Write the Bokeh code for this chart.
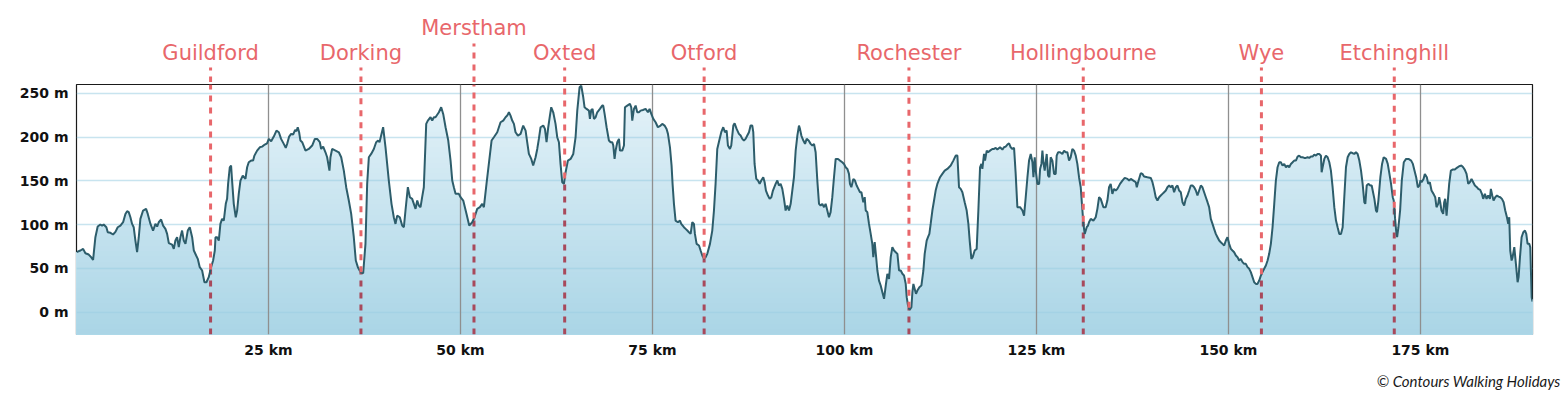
import numpy as np
from bokeh.plotting import figure
from bokeh.layouts import column
from bokeh.models import (Range1d, FixedTicker, PrintfTickFormatter, ColumnDataSource, Title)
from bokeh.embed import file_html
from bokeh.resources import INLINE
from bokeh.core.properties import value

# ---------------- data ----------------
distance_km = [
    0.0, 0.51, 0.86, 1.16, 1.59, 1.90, 2.16, 2.46, 2.76, 3.11, 3.33, 3.54, 3.89, 4.07, 4.42, 4.76,
    5.07, 5.37, 5.72, 6.07, 6.37, 6.59, 6.80, 7.02, 7.24, 7.45, 7.67, 7.89, 8.11, 8.32, 8.67, 9.06,
    9.28, 9.63, 9.97, 10.28, 10.50, 10.71, 11.02, 11.28, 11.58, 11.80, 12.02, 12.45, 12.67, 12.88,
    13.10, 13.32, 13.53, 13.75, 13.97, 14.19, 14.49, 14.75, 15.06, 15.28, 15.58, 15.79, 16.05, 16.36,
    16.66, 16.92, 17.22, 17.53, 17.79, 18.01, 18.10, 18.31, 18.53, 18.74, 18.96, 19.18, 19.44, 19.61,
    19.74, 19.96, 20.13, 20.26, 20.48, 20.74, 20.92, 21.13, 21.35, 21.65, 22.00, 22.22, 22.43, 22.74,
    23.00, 23.17, 23.52, 23.87, 24.17, 24.52, 24.82, 25.04, 25.35, 25.69, 26.04, 26.35, 26.64, 26.99,
    27.25, 27.43, 27.69, 27.95, 28.21, 28.47, 28.64, 28.81, 28.99, 29.16,
    29.39, 29.82, 30.25, 30.69, 31.04, 31.34, 31.69, 31.86, 32.12, 32.42, 32.64, 32.94, 33.07, 33.29,
    33.73, 34.16, 34.47, 34.81, 35.12, 35.46, 35.77, 36.11, 36.37, 36.64, 36.98, 37.33, 37.63, 37.85,
    38.07, 38.37, 38.72, 39.02, 39.28, 39.46, 39.67, 39.93, 40.24, 40.67, 41.02, 41.32, 41.54, 41.76,
    42.10, 42.41, 42.63, 42.84, 43.15, 43.41, 43.71, 44.15, 44.37, 44.58, 44.80, 45.01, 45.23, 45.54,
    45.75, 46.10, 46.32, 46.54, 46.75, 47.19, 47.49, 47.75, 48.06, 48.41, 48.71, 48.93, 49.14, 49.36,
    49.79, 50.01, 50.36, 50.79, 51.14, 51.53, 51.83, 52.18, 52.53, 52.83, 53.05, 53.39, 54.05, 54.35,
    54.79, 55.22, 55.57, 55.87, 56.09, 56.31, 56.52, 56.74, 56.96, 57.17, 57.48, 57.83, 58.17, 58.48,
    58.69, 58.91, 59.22, 59.47, 59.78, 60.00, 60.21, 60.43, 60.78, 61.00, 61.21, 61.43, 61.65, 61.82,
    62.08, 62.38, 62.60, 62.82, 63.03, 63.25, 63.47, 63.69, 63.99, 64.34, 64.69, 64.99, 65.21, 65.51,
    65.73, 65.99, 66.16, 66.42, 66.73, 66.86, 67.03, 67.20, 67.38, 67.60, 67.81, 68.16, 68.46, 68.59,
    68.77, 69.03, 69.33, 69.55, 69.77, 69.90, 70.07, 70.20, 70.42, 70.64, 70.77, 71.07, 71.29, 71.42,
    71.72, 72.07, 72.24, 72.37, 72.59, 72.81, 73.02, 73.24, 73.46, 73.76, 74.11, 74.41, 74.63, 74.85,
    75.11, 75.41, 75.71, 76.06, 76.28, 76.58, 76.84, 77.02, 77.28, 77.49, 77.62, 77.80, 78.01, 78.32,
    78.58, 78.75, 79.10, 79.32, 79.54, 79.75, 79.97, 80.19, 80.40, 80.53, 80.75, 81.06, 81.27, 81.49,
    81.71, 81.92, 82.14, 82.49, 82.79, 83.01, 83.22, 83.44, 83.70, 83.96, 84.22, 84.44, 84.66, 84.83,
    85.09, 85.26, 85.53, 85.70, 85.96, 86.26, 86.48, 86.70, 86.91, 87.13, 87.35, 87.57, 87.78, 88.00,
    88.13, 88.30, 88.52, 88.74, 88.96, 89.17, 89.43, 89.61, 89.78, 90.04, 90.26, 90.48, 90.69, 91.04,
    91.26, 91.47, 91.69, 91.91, 92.13, 92.34, 92.56, 92.78, 93.00, 93.21, 93.43, 93.65, 93.87, 94.08,
    94.21, 94.39, 94.65, 94.87, 95.08, 95.34, 95.60, 95.82, 96.04, 96.25, 96.47, 96.69, 96.90, 97.12,
    97.34, 97.55, 97.77, 97.99, 98.20, 98.42, 98.64, 98.86, 99.16, 99.42, 99.72, 99.94, 100.16, 100.38,
    100.59, 100.72, 100.90, 101.16, 101.37, 101.59, 101.81, 102.03,
    102.21, 102.33, 102.46, 102.64, 102.77, 102.98, 103.20, 103.42, 103.63, 103.76, 103.94, 104.11,
    104.29, 104.50, 104.72, 104.94, 105.16, 105.38, 105.59, 105.81, 106.03, 106.24, 106.46, 106.68,
    106.90, 107.11, 107.33, 107.55, 107.76, 107.98, 108.11, 108.28, 108.50, 108.72, 108.85, 108.98,
    109.15, 109.32, 109.50, 109.76, 110.02, 110.28, 110.45, 110.71, 110.88, 111.06, 111.23, 111.45,
    111.67, 111.88, 112.10, 112.45, 112.75, 113.06, 113.40, 113.84, 114.18, 114.49, 114.71, 114.92,
    115.14, 115.36, 115.66, 115.92, 116.14, 116.31, 116.53, 116.70, 116.96, 117.22, 117.44, 117.66,
    117.83, 117.96, 118.18, 118.31, 118.53, 118.70, 118.96, 119.26, 119.48, 119.70, 119.91, 120.26,
    120.57, 120.78, 121.00, 121.22, 121.44, 121.65, 121.87, 122.09, 122.30, 122.52, 122.87, 123.18,
    123.39, 123.61, 123.83, 124.04, 124.26, 124.48, 124.61, 124.78, 124.91, 125.13, 125.35, 125.48,
    125.65, 125.78, 125.91, 126.08, 126.34, 126.52, 126.69, 126.86, 127.08, 127.30, 127.51, 127.64,
    127.82, 128.08, 128.38, 128.60, 128.81, 129.03, 129.25, 129.46, 129.68, 129.90, 130.12, 130.33,
    130.55, 130.77, 130.99, 131.12, 131.29, 131.55, 131.72, 131.85, 132.07, 132.42, 132.72, 132.94,
    133.16, 133.37, 133.72, 134.02, 134.24, 134.46, 134.67, 134.89, 135.11, 135.33, 135.54, 135.89,
    136.20, 136.50, 136.85, 137.07, 137.29, 137.63, 137.94, 138.07, 138.24, 138.50,
    138.59, 138.80, 139.02, 139.45, 139.89, 140.11, 140.32, 140.54, 140.76, 140.98, 141.19, 141.41,
    141.63, 141.85, 142.06, 142.28, 142.50, 142.71, 142.93, 143.15, 143.37, 143.58, 143.80, 144.02,
    144.24, 144.45, 144.67, 144.89, 145.10, 145.32, 145.54, 145.76, 145.97, 146.19, 146.41, 146.62,
    146.84, 147.06, 147.28, 147.49, 147.71, 147.93, 148.14, 148.36, 148.58, 148.80, 149.01, 149.23,
    149.45, 149.67, 149.88, 150.10, 150.32, 150.53, 150.75, 150.97, 151.19, 151.40, 151.62, 151.84,
    152.05, 152.27, 152.49, 152.71, 152.92, 153.14, 153.36, 153.58, 153.79, 154.01, 154.23, 154.44,
    154.66, 154.88, 155.10, 155.31, 155.53, 155.75, 155.97, 156.18, 156.40, 156.62, 156.83, 157.05,
    157.27, 157.49, 157.70, 157.92, 158.14, 158.36, 158.57, 158.79, 159.01, 159.22, 159.44, 159.66,
    159.88, 160.09, 160.31, 160.53, 160.75, 160.96, 161.18, 161.40, 161.61, 161.83, 162.05, 162.14,
    162.27, 162.49, 162.70, 162.92, 163.14, 163.35, 163.57, 163.79, 164.01, 164.22, 164.44, 164.66,
    164.88, 165.09, 165.31, 165.53, 165.74, 165.96, 166.18, 166.40, 166.61, 166.83, 167.05, 167.27,
    167.48, 167.70, 167.83, 168.01, 168.22, 168.48, 168.66, 168.79, 169.01, 169.22, 169.35, 169.53,
    169.79, 170.01, 170.22, 170.53, 170.75, 170.97, 171.18, 171.40, 171.53, 171.71, 171.84, 171.97,
    172.14, 172.36, 172.58, 172.84, 173.14, 173.45, 173.80, 174.02, 174.23, 174.45, 174.67, 174.88,
    175.01,
    175.15, 175.41, 175.58, 175.84, 176.02, 176.23, 176.45, 176.71, 176.93, 177.10, 177.32, 177.45,
    177.58, 177.75, 177.97, 178.10, 178.23, 178.41, 178.54, 178.75, 178.97, 179.19, 179.49, 179.75,
    180.05, 180.36, 180.57, 180.79, 181.01, 181.23, 181.44, 181.66, 181.88, 182.10, 182.36, 182.53,
    182.79, 183.01, 183.18, 183.40, 183.62, 183.83, 184.05, 184.18, 184.36, 184.53, 184.75, 184.97,
    185.18, 185.40, 185.62, 185.84, 186.05, 186.27, 186.44, 186.57, 186.70, 186.88, 187.01, 187.23,
    187.44, 187.66, 187.79, 187.97, 188.18, 188.40, 188.62, 188.79, 188.96, 189.18, 189.31, 189.49,
    189.60,
]

elevation_m = [
    68.5, 70.4, 72.3, 67.3, 65.8, 62.8, 59.7, 85.6, 97.8, 100.1, 98.9, 100.1, 97.0, 91.3, 90.6, 88.7,
    91.7, 97.0, 98.9, 102.7, 112.2, 115.3, 114.2, 108.4, 100.8, 97.0, 81.8, 68.5, 85.6, 106.5, 116.1, 118.0,
    112.2, 100.8, 93.2, 100.8, 97.8, 102.7, 105.8, 98.9, 95.1, 89.4, 78.8, 77.2, 72.3, 81.8,
    85.6, 74.2, 85.6, 93.2, 81.8, 78.0, 93.2, 97.0, 85.6, 70.4, 64.7, 60.9, 51.4, 47.6,
    34.2, 34.2, 40.0, 51.4, 59.0, 70.4, 85.6, 85.6, 81.8, 100.8, 106.5, 104.6, 123.7, 129.4,
    146.5, 165.5, 167.4, 150.3, 123.7, 108.4, 116.1, 135.1, 150.3, 156.0, 152.2, 165.5, 171.2, 173.1,
    173.1, 178.8, 184.5, 188.3, 189.1, 191.4, 192.9, 197.9, 195.2, 200.5, 207.4, 205.5, 197.9, 192.2,
    187.6, 192.2, 200.5, 203.6, 202.8, 208.1, 206.6, 211.2, 205.5, 196.0,
    194.1, 184.5, 186.4, 190.3, 197.9, 197.9, 194.1, 186.4, 189.1, 182.6, 176.9, 161.7, 176.9, 186.4,
    184.5, 182.6, 176.9, 161.7, 142.7, 127.5, 112.2, 85.6, 59.0, 51.4, 45.7, 44.5, 78.0, 146.5,
    176.9, 180.7, 186.4, 194.1, 196.0, 194.1, 201.7, 211.2, 188.3, 150.3, 123.7, 108.4, 100.8, 110.3,
    108.4, 98.9, 97.0, 116.1, 142.7, 131.3, 129.4, 118.0, 127.5, 121.8, 119.9, 131.3, 142.7, 215.0,
    218.8, 222.6, 218.8, 222.6, 222.6, 228.3, 234.0, 226.4, 211.2, 196.0, 173.1, 150.3, 142.7, 135.1,
    135.1, 131.3, 127.5, 112.2, 98.9, 102.7, 108.4, 118.0, 119.9, 123.7, 119.9, 146.5, 196.0, 199.8,
    205.5, 216.9, 218.8, 222.6, 224.5, 228.3, 224.5, 218.8, 215.0, 205.5, 201.7, 203.6, 213.1, 207.4,
    194.1, 180.7, 175.0, 167.4, 176.9, 186.4, 197.9, 211.2, 213.1, 209.3, 194.1, 211.2, 224.5, 234.0,
    228.3, 215.0, 199.8, 194.1, 169.3, 148.4, 146.5, 159.8, 173.1, 175.0, 180.7, 199.8, 230.2, 256.8,
    258.7, 245.4, 234.0, 232.1, 230.2, 220.7, 230.9, 232.1, 220.7, 222.6, 228.3, 232.1, 235.9, 235.9,
    226.4, 211.2, 196.0, 194.1, 194.1, 190.3, 175.0, 184.5, 194.1, 197.9, 184.5, 184.5, 190.3, 234.0,
    235.9, 237.8, 234.0, 218.8, 232.1, 235.9, 228.3, 228.3, 230.2, 230.9, 232.1, 228.3, 232.1, 226.4,
    220.7, 216.9, 211.2, 213.1, 215.0, 213.1, 209.3, 203.6, 188.3, 167.4, 146.5, 123.7, 104.6, 102.7,
    104.6, 100.8, 97.0, 95.1, 93.2, 91.3, 89.4, 102.7, 100.8, 89.4, 78.0, 76.1, 70.4, 64.7,
    60.9, 62.8, 66.6, 78.0, 93.2, 116.1, 146.5, 186.4, 196.0, 205.5, 211.2, 205.5, 207.4, 190.3,
    186.4, 190.3, 213.1, 215.7, 209.3, 203.6, 201.7, 197.9, 196.0, 197.9, 201.7, 205.5, 213.1, 213.1,
    205.5, 169.3, 152.2, 150.3, 146.5, 150.3, 154.1, 148.4, 138.9, 133.2, 129.4, 131.3, 138.9, 146.5,
    150.3, 144.6, 146.5, 140.8, 129.4, 116.1, 121.8, 116.1, 123.7, 138.9, 154.1, 184.5, 201.7, 213.1,
    209.3, 201.7, 196.0, 192.2, 197.9, 196.0, 192.2, 190.3, 192.2, 182.6, 150.3, 123.7, 121.8, 123.7,
    119.9, 123.7, 116.1, 108.4, 114.2, 131.3, 154.1, 175.0, 175.0, 173.1, 171.2, 169.3, 165.5, 163.6,
    157.9, 146.5, 142.7, 152.2, 150.3, 144.6, 140.8, 137.0,
    137.0, 131.3, 125.6, 131.3, 116.1, 114.2, 100.8, 89.4, 78.0, 62.8, 79.9, 64.7,
    47.6, 36.1, 30.4, 22.8, 15.2, 30.4, 43.8, 38.1, 62.8, 74.2, 70.4, 68.5,
    66.6, 47.6, 47.6, 43.8, 41.9, 32.3, 17.1, 7.6, 2.7, 5.7, 22.8, 32.3,
    26.6, 20.9, 24.7, 28.5, 30.4, 47.6, 66.6, 81.8, 85.6, 89.4, 100.8, 116.1,
    127.5, 138.9, 146.5, 154.1, 157.9, 161.7, 163.6, 167.4, 173.1, 178.8, 178.8, 142.7,
    140.8, 137.0, 125.6, 116.1, 100.8, 81.8, 60.9, 62.8, 70.4, 72.3, 116.1, 165.5,
    169.3, 163.6, 180.7, 173.1, 184.5, 182.6, 184.5, 186.4, 186.4, 187.6, 185.7, 188.3,
    185.7, 188.3, 189.1, 191.4, 192.9, 188.3, 186.4, 187.6, 157.9, 119.9, 119.9, 116.1,
    110.3, 131.3, 154.1, 173.1, 180.7, 171.2, 154.1, 176.9, 161.7, 146.5, 146.5, 163.6,
    169.3, 184.5, 171.2, 161.7, 180.7, 156.0, 154.1, 176.9, 173.1, 157.9, 157.9, 178.8,
    182.6, 182.6, 180.7, 184.5, 182.6, 182.6, 173.1, 176.9, 186.4, 184.5, 178.8, 169.3,
    154.1, 142.7, 116.1, 100.8, 89.4, 97.0, 98.9, 102.7, 106.5, 104.6, 108.4, 118.0,
    131.3, 129.4, 119.9, 119.9, 127.5, 142.7, 146.5, 135.1, 140.8, 138.9, 140.8, 146.5,
    150.3, 153.3, 152.2, 150.3, 152.2, 150.3, 148.4, 142.7, 148.4, 156.0,
    158.7, 157.9, 154.9, 154.1, 153.3, 148.4, 140.8, 131.3, 127.5, 131.3, 133.2, 135.1,
    137.0, 138.9, 142.7, 144.6, 142.7, 144.6, 137.0, 142.7, 144.6, 138.9, 137.0, 125.6,
    121.8, 129.4, 133.2, 138.9, 144.6, 144.6, 142.7, 138.9, 133.2, 138.9, 144.6, 142.7,
    137.0, 131.3, 125.6, 119.9, 106.5, 100.8, 95.1, 89.4, 85.6, 81.8, 79.9, 78.0,
    76.1, 81.8, 85.6, 78.0, 72.3, 70.4, 68.5, 64.7, 62.8, 59.0, 60.9, 57.1,
    55.2, 55.2, 51.4, 49.5, 45.7, 40.0, 34.2, 32.3, 32.3, 36.1, 41.9, 45.7,
    49.5, 53.3, 59.0, 66.6, 78.0, 97.0, 123.7, 150.3, 165.5, 171.2, 171.2, 167.4,
    169.3, 165.5, 167.4, 165.5, 169.3, 171.2, 173.1, 173.1, 177.7, 178.8, 176.9, 176.9,
    176.2, 176.2, 176.9, 176.2, 177.7, 177.7, 180.0, 178.8, 180.7, 180.7, 178.8, 159.8,
    165.5, 175.0, 178.8, 176.9, 171.2, 161.7, 142.7, 119.9, 104.6, 97.0, 89.4, 89.4,
    97.0, 131.3, 165.5, 176.9, 180.7, 182.6, 181.5, 180.7, 182.6, 180.7, 173.1, 161.7,
    146.5, 125.6, 123.7, 144.6, 146.5, 144.6, 144.6, 138.9, 129.4, 116.1, 114.2, 127.5,
    154.1, 169.3, 176.9, 175.0, 169.3, 157.9, 146.5, 131.3, 127.5, 106.5, 93.2, 85.6,
    97.0, 116.1, 150.3, 171.2, 175.0, 175.0, 173.1, 169.3, 161.7, 154.1, 142.7, 144.6,
    150.3,
    148.4, 152.2, 157.9, 154.1, 146.5, 148.4, 138.9, 135.1, 131.3, 119.9, 123.7, 131.3,
    125.6, 116.1, 112.2, 125.6, 129.4, 110.3, 123.7, 146.5, 161.7, 162.8, 162.8, 164.8,
    166.7, 167.4, 165.5, 162.5, 157.9, 146.5, 148.4, 152.2, 148.4, 144.6, 142.7, 140.8,
    139.6, 135.1, 129.4, 135.1, 129.4, 133.2, 129.4, 140.8, 133.2, 127.5, 131.3, 133.2,
    132.0, 131.3, 129.4, 125.6, 116.1, 108.4, 100.8, 108.4, 70.4, 59.0, 62.8, 74.2,
    55.2, 34.2, 40.0, 62.8, 85.6, 91.3, 93.2, 89.4, 78.0, 78.0, 74.2, 17.1,
    12.0,
]

towns = ["Guildford", "Dorking", "Merstham", "Oxted", "Otford",
         "Rochester", "Hollingbourne", "Wye", "Etchinghill"]
town_km = [17.46, 37.04, 51.76, 63.57, 81.73, 108.40, 131.10, 154.30, 171.60]
town_row = [0, 0, 1, 0, 0, 0, 0, 0, 0]

y_ticks = [0, 50, 100, 150, 200, 250]
x_ticks = [25, 50, 75, 100, 125, 150, 175]
credit = "\u00a9 Contours Walking Holidays"

# ---------------- layout ----------------
X_MIN, X_MAX = 0.0, 189.6
Y_MIN, Y_MAX = -25.5, 260.0
W = 1564
ML, MR = 76, 32
TOP_H = 82            # strip above the frame for town names
MAIN_TOP, FRAME_H, MAIN_BOTTOM = 2, 250, 69
px_per_m = FRAME_H / (Y_MAX - Y_MIN)

RED = "#e8676b"
RED_DARK = "#a8495b"
LINE = "#2d5d6b"

x_range = Range1d(X_MIN, X_MAX)

# ---- main profile figure ----
p = figure(width=W, height=MAIN_TOP + FRAME_H + MAIN_BOTTOM, x_range=x_range,
           y_range=Range1d(Y_MIN, Y_MAX), output_backend="svg", toolbar_location=None,
           min_border_left=ML, min_border_right=MR, min_border_top=MAIN_TOP,
           min_border_bottom=MAIN_BOTTOM)
p.outline_line_color = "#1a1a1a"
p.outline_line_width = 1.2
p.xgrid.visible = False
p.ygrid.visible = False
p.background_fill_color = "white"
p.border_fill_color = "white"

x = np.array(distance_km)
y = np.array(elevation_m)

# vertical gradient fill drawn as stacked layers
n = 48
levels = np.linspace(Y_MIN, Y_MAX, n + 1)
top_rgb = np.array([230, 243, 249])
bot_rgb = np.array([170, 213, 230])
for k in range(n, 0, -1):
    tt = ((levels[k] + levels[k - 1]) / 2 - Y_MIN) / (Y_MAX - Y_MIN)
    c = bot_rgb + (top_rgb - bot_rgb) * tt
    col = "#%02x%02x%02x" % tuple(int(round(v)) for v in c)
    p.varea(x=x, y1=Y_MIN, y2=np.minimum(y, levels[k]), fill_color=col)

# grid lines
p.hspan(y=y_ticks, line_color="#9acde1", line_alpha=0.55, line_width=1.5)
p.vspan(x=x_ticks, line_color="#8f8f8f", line_width=1.3)

# town markers inside the frame
curve_at_town = np.interp(town_km, x, y)
nt = len(town_km)
p.segment(x0=town_km, y0=[Y_MIN] * nt, x1=town_km, y1=curve_at_town,
          line_color=RED_DARK, line_width=3, line_dash="6 6")
p.line(x, y, line_color=LINE, line_width=2)
p.segment(x0=town_km, y0=curve_at_town, x1=town_km, y1=[Y_MAX] * nt,
          line_color=RED, line_width=3, line_dash="6 6")

# axes
for ax in (p.xaxis[0], p.yaxis[0]):
    ax.axis_line_color = None
    ax.major_tick_line_color = None
    ax.minor_tick_line_color = None
    ax.major_tick_out = 0
    ax.major_tick_in = 0
    ax.minor_tick_out = 0
    ax.major_label_text_font = "DejaVu Sans"
    ax.major_label_text_font_style = "bold"
    ax.major_label_text_font_size = "14px"
    ax.major_label_text_color = "#111111"
p.yaxis.ticker = FixedTicker(ticks=y_ticks)
p.yaxis.formatter = PrintfTickFormatter(format="%d m")
p.yaxis.major_label_standoff = 8
p.xaxis.ticker = FixedTicker(ticks=x_ticks)
p.xaxis.formatter = PrintfTickFormatter(format="%d km")
p.xaxis.major_label_standoff = 7

# credit line under the axis, right aligned past the frame edge
p.add_layout(Title(text=credit, align="right", offset=-28, standoff=22, vertical_align="top",
                   text_font="Lato", text_font_style="italic", text_font_size="15px",
                   text_color="#1a1a1a"), "below")

# ---- strip above: town names and the dashes leading down ----
top_span = TOP_H / px_per_m
t = figure(width=W, height=TOP_H, x_range=x_range, y_range=Range1d(Y_MAX, Y_MAX + top_span),
           output_backend="svg", toolbar_location=None, x_axis_location=None,
           y_axis_location=None, min_border_left=ML, min_border_right=MR,
           min_border_top=0, min_border_bottom=0)
t.outline_line_color = None
t.grid.visible = False
t.background_fill_color = "white"
t.border_fill_color = "white"
dash_top = [Y_MAX + (15 if r == 0 else 39) / px_per_m for r in town_row]
label_y = [Y_MAX + (30 if r == 0 else 55) / px_per_m for r in town_row]
tsrc = ColumnDataSource(dict(x=town_km, y0=[Y_MAX] * nt, y1=dash_top, ly=label_y, name=towns))
t.segment(x0="x", y0="y0", x1="x", y1="y1", source=tsrc,
          line_color=RED, line_width=3, line_dash="6 6")
t.text(x="x", y="ly", text="name", source=tsrc, text_align="center",
       text_baseline="middle", text_color=RED,
       text_font=value("DejaVu Sans"), text_font_size="21px")

layout = column(t, p, spacing=0)
open("out.html", "w").write(file_html(layout, INLINE))
